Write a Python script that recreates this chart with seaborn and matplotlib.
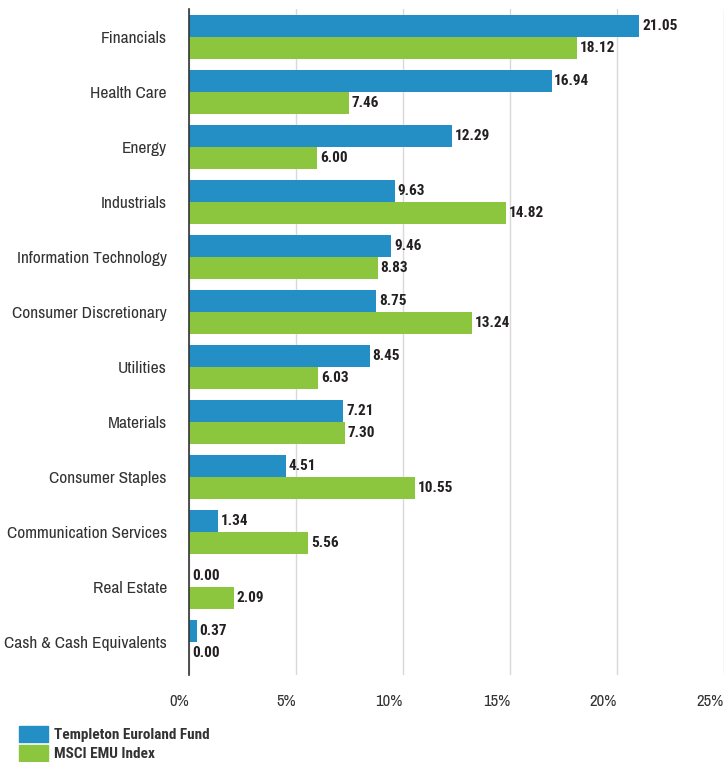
import matplotlib
matplotlib.use("Agg")
import matplotlib.pyplot as plt
import matplotlib.patches as mpatches
import seaborn as sns
import pandas as pd

sectors = ["Financials", "Health Care", "Energy", "Industrials",
           "Information Technology", "Consumer Discretionary", "Utilities",
           "Materials", "Consumer Staples", "Communication Services",
           "Real Estate", "Cash & Cash Equivalents"]
fund = [21.05, 16.94, 12.29, 9.63, 9.46, 8.75, 8.45, 7.21, 4.51, 1.34, 0.00, 0.37]
index = [18.12, 7.46, 6.00, 14.82, 8.83, 13.24, 6.03, 7.30, 10.55, 5.56, 2.09, 0.00]
series_names = ["Templeton Euroland Fund", "MSCI EMU Index"]
xticks = [0, 5, 10, 15, 20, 25]
xtick_labels = ["0%", "5%", "10%", "15%", "20%", "25%"]

BLUE = "#238fc4"
GREEN = "#8cc63f"
BOLD_FAMILY = ["Roboto Condensed", "DejaVu Sans"]

df = pd.DataFrame({
    "sector": sectors * 2,
    "value": fund + index,
    "series": [series_names[0]] * len(sectors) + [series_names[1]] * len(sectors),
})

sns.set_style("white")
plt.rcParams["font.family"] = ["Archivo Narrow", "DejaVu Sans"]

fig = plt.figure(figsize=(7.25, 7.62), dpi=100)
ax = fig.add_axes([189 / 725, 1 - 675 / 762, (724 - 189) / 725, (675 - 9) / 762])

sns.barplot(data=df, y="sector", x="value", hue="series", orient="h",
            palette=[BLUE, GREEN], width=0.8, saturation=1, ax=ax, legend=False,
            linewidth=0)

for c in ax.containers:
    ax.bar_label(c, fmt="%.2f", padding=2, fontsize=11, fontweight="bold",
                 family=BOLD_FAMILY, color="#231f20")

ax.set_xlim(0, 25)
ax.set_ylim(11.6, -0.5)
ax.set_xticks(xticks)
ax.set_xticklabels(xtick_labels, fontsize=12, color="#333333", ha="right")
ax.tick_params(axis="y", labelsize=12.5, labelcolor="#333333", length=0, pad=16)
ax.tick_params(axis="x", length=0, pad=14)
ax.set_xlabel("")
ax.set_ylabel("")
ax.grid(axis="x", color="#d9d9d9", linewidth=1)
ax.set_axisbelow(True)
for s in ["top", "right", "bottom"]:
    ax.spines[s].set_visible(False)
ax.spines["left"].set_color("#333333")
ax.spines["left"].set_linewidth(1.2)

handles = [mpatches.Patch(color=BLUE, label=series_names[0]),
           mpatches.Patch(color=GREEN, label=series_names[1])]
fig.legend(handles=handles, loc="upper left", bbox_to_anchor=(0.026, 1 - 726 / 762),
           frameon=False, prop={"size": 11, "weight": "bold", "family": BOLD_FAMILY},
           handlelength=1.9, handleheight=1.2, handletextpad=0.4, labelspacing=0.2,
           labelcolor="#333333", borderaxespad=0, borderpad=0)

fig.savefig("out.png", dpi=100)
